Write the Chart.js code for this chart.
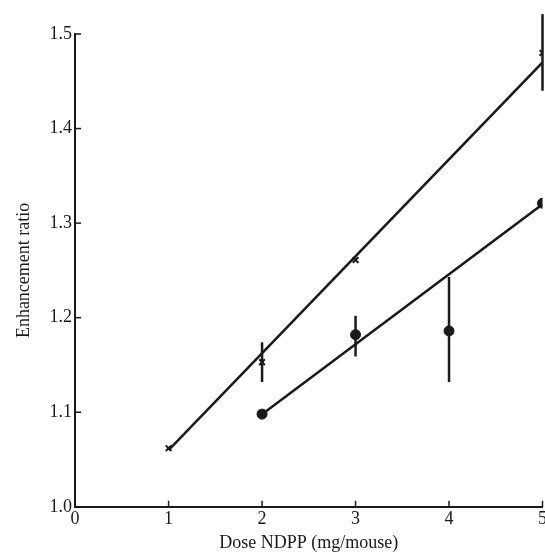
<!DOCTYPE html>
<html>
<head>
<meta charset="utf-8">
<script src="https://cdn.jsdelivr.net/npm/chart.js@4"></script>
<style>
  html, body { margin: 0; padding: 0; background: #fff; overflow: hidden; }
  #wrap { width: 549px; height: 554px; }
</style>
</head>
<body>
<div id="wrap"><canvas id="doseChart"></canvas></div>
<script>
// Dose (mg/mouse) and enhancement ratios
const crossDose = [1, 2, 3, 5];
const crossRatio = [1.062, 1.153, 1.261, 1.48];
const crossErrLow = [null, 1.132, null, 1.44];
const crossErrHigh = [null, 1.174, null, 1.521];

const dotDose = [2, 3, 4, 5];
const dotRatio = [1.098, 1.182, 1.186, 1.321];
const dotErrLow = [null, 1.159, 1.132, null];
const dotErrHigh = [null, 1.202, 1.243, null];

// fitted lines (end points)
const crossFitDose = [1, 5];
const crossFitRatio = [1.06, 1.47];
const dotFitDose = [2, 5];
const dotFitRatio = [1.098, 1.32];

const xTicks = [0, 1, 2, 3, 4, 5];
const yTicks = [1.0, 1.1, 1.2, 1.3, 1.4, 1.5];

const ink = '#1a1a1a';
const serif = { family: 'Liberation Serif', size: 18 };
const pts = (xs, ys) => xs.map((x, i) => ({ x: x, y: ys[i] }));

// error bars + inward tick marks
const extras = {
  id: 'extras',
  afterDatasetsDraw(chart) {
    const { ctx, scales: { x, y } } = chart;
    ctx.save();
    ctx.strokeStyle = ink;
    ctx.lineWidth = 2.5;
    const bars = (xs, lo, hi) => {
      xs.forEach((d, i) => {
        if (lo[i] == null) return;
        const px = x.getPixelForValue(d);
        ctx.beginPath();
        ctx.moveTo(px, y.getPixelForValue(lo[i]));
        ctx.lineTo(px, y.getPixelForValue(hi[i]));
        ctx.stroke();
      });
    };
    bars(crossDose, crossErrLow, crossErrHigh);
    bars(dotDose, dotErrLow, dotErrHigh);

    ctx.lineWidth = 1.5;
    const y0 = y.getPixelForValue(1.0);
    const x0 = x.getPixelForValue(0);
    xTicks.forEach(t => {
      const px = x.getPixelForValue(t);
      ctx.beginPath();
      ctx.moveTo(px, y0);
      ctx.lineTo(px, y0 - 6);
      ctx.stroke();
    });
    yTicks.forEach(t => {
      const py = y.getPixelForValue(t);
      ctx.beginPath();
      ctx.moveTo(x0, py);
      ctx.lineTo(x0 + 6, py);
      ctx.stroke();
    });
    ctx.restore();
  }
};

new Chart(document.getElementById('doseChart'), {
  type: 'scatter',
  data: {
    datasets: [
      {
        type: 'line',
        data: pts(crossFitDose, crossFitRatio),
        borderColor: ink,
        borderWidth: 2.5,
        pointRadius: 0,
        fill: false
      },
      {
        type: 'line',
        data: pts(dotFitDose, dotFitRatio),
        borderColor: ink,
        borderWidth: 2.5,
        pointRadius: 0,
        fill: false
      },
      {
        data: pts(crossDose, crossRatio),
        pointStyle: 'crossRot',
        pointRadius: 4,
        borderColor: ink,
        borderWidth: 2
      },
      {
        data: pts(dotDose, dotRatio),
        pointStyle: 'circle',
        pointRadius: 5,
        backgroundColor: ink,
        borderColor: ink
      }
    ]
  },
  options: {
    responsive: true,
    maintainAspectRatio: false,
    animation: false,
    layout: { padding: { top: 34, right: 0, left: 13, bottom: 0 } },
    plugins: { legend: { display: false }, tooltip: { enabled: false } },
    scales: {
      x: {
        type: 'linear',
        min: 0,
        max: 5,
        afterBuildTicks: s => { s.ticks = xTicks.map(v => ({ value: v })); },
        grid: { drawOnChartArea: false, drawTicks: false },
        border: { color: ink, width: 2 },
        ticks: { color: ink, padding: 2, font: serif },
        title: {
          display: true,
          text: 'Dose NDPP (mg/mouse)',
          color: ink,
          padding: { top: 0, bottom: 0 },
          font: serif
        }
      },
      y: {
        min: 1.0,
        max: 1.5,
        afterBuildTicks: s => { s.ticks = yTicks.map(v => ({ value: v })); },
        grid: { drawOnChartArea: false, drawTicks: false },
        border: { color: ink, width: 2 },
        ticks: {
          color: ink,
          padding: 3,
          callback: v => v.toFixed(1),
          font: serif
        },
        title: {
          display: true,
          text: 'Enhancement ratio',
          color: ink,
          padding: { top: 0, bottom: 12 },
          font: serif
        }
      }
    }
  },
  plugins: [extras]
});
</script>
</body>
</html>
